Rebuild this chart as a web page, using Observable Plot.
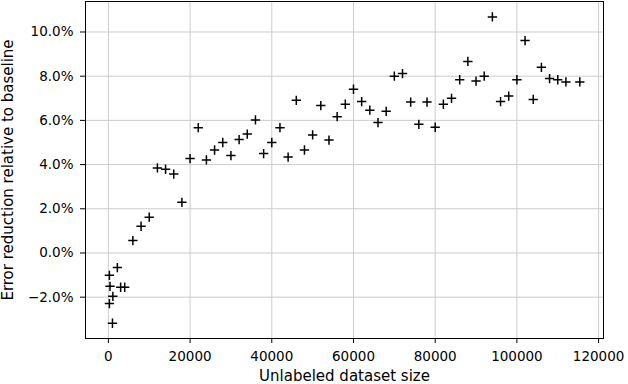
<!DOCTYPE html>
<html>
<head>
<meta charset="utf-8">
<script src="https://cdn.jsdelivr.net/npm/d3@7"></script>
<script src="https://cdn.jsdelivr.net/npm/@observablehq/plot@0.6"></script>
<style>
  html, body { margin: 0; padding: 0; background: #fff; }
  #chart svg { display: block; }
</style>
</head>
<body>
<div id="chart"></div>
<script>
const sizes = [250, 400, 250, 1100, 1000, 2200, 3000, 4000, 6000, 8000, 10000, 12000, 14000, 16000, 18000,
  20000, 22000, 24000, 26000, 28000, 30000, 32000, 34000, 36000, 38000, 40000, 42000, 44000, 46000, 48000,
  50000, 52000, 54000, 56000, 58000, 60000, 62000, 64000, 66000, 68000, 70000, 72000, 74000, 76000, 78000,
  80000, 82000, 84000, 86000, 88000, 90000, 92000, 94000, 96000, 98000, 100000, 102000, 104000, 106000,
  108000, 110000, 112000, 115400];
const reductions = [-1.01, -1.51, -2.29, -1.96, -3.18, -0.66, -1.55, -1.55, 0.56, 1.21, 1.62, 3.85, 3.79, 3.57, 2.29,
  4.27, 5.67, 4.21, 4.66, 5.00, 4.41, 5.13, 5.38, 6.02, 4.50, 5.00, 5.67, 4.34, 6.91, 4.66,
  5.34, 6.67, 5.11, 6.17, 6.73, 7.41, 6.85, 6.46, 5.90, 6.41, 8.00, 8.12, 6.83, 5.82, 6.83,
  5.69, 6.73, 7.00, 7.84, 8.67, 7.78, 8.00, 10.68, 6.85, 7.10, 7.84, 9.61, 6.95, 8.40,
  7.89, 7.84, 7.74, 7.74];
const xTicks = [0, 20000, 40000, 60000, 80000, 100000, 120000];
const yTicks = [-2, 0, 2, 4, 6, 8, 10];
const xLabel = "Unlabeled dataset size";
const yLabel = "Error reduction relative to baseline";

const data = sizes.map((s, i) => ({size: s, value: reductions[i]}));
const pct = d => d3.format(".1f")(d) + "%";

const chart = Plot.plot({
  width: 628,
  height: 384,
  marginLeft: 85,
  marginRight: 25,
  marginTop: 1,
  marginBottom: 46,
  style: {fontFamily: "DejaVu Sans, sans-serif", background: "#fff", color: "#000"},
  x: {domain: [-5600, 121200]},
  y: {domain: [-3.87, 11.38]},
  marks: [
    Plot.gridX(xTicks, {stroke: "#cccccc", strokeOpacity: 1, strokeWidth: 1}),
    Plot.gridY(yTicks, {stroke: "#cccccc", strokeOpacity: 1, strokeWidth: 1}),
    Plot.frame({stroke: "#000", strokeWidth: 1}),
    Plot.dot(data, {x: "size", y: "value", symbol: "plus", r: 3.1, stroke: "#000", strokeWidth: 1.5}),
    Plot.axisX(xTicks, {tickFormat: d => String(d), tickSize: 5, tickPadding: 8, fontSize: 13.5, label: null,
      style: {letterSpacing: "1.1px"}}),
    Plot.axisY(yTicks, {tickFormat: pct, tickSize: 5, tickPadding: 7, fontSize: 13.5, label: null,
      style: {letterSpacing: "1.1px"}}),
    Plot.text([xLabel], {frameAnchor: "bottom", dy: 32, lineAnchor: "top", fontSize: 15, fill: "#000",
      style: {letterSpacing: "0.25px"}}),
    Plot.text([yLabel], {frameAnchor: "left", dx: -83, rotate: -90, lineAnchor: "top", textAnchor: "middle",
      fontSize: 15, fill: "#000", style: {letterSpacing: "0.25px"}})
  ]
});
document.getElementById("chart").appendChild(chart);
</script>
</body>
</html>
